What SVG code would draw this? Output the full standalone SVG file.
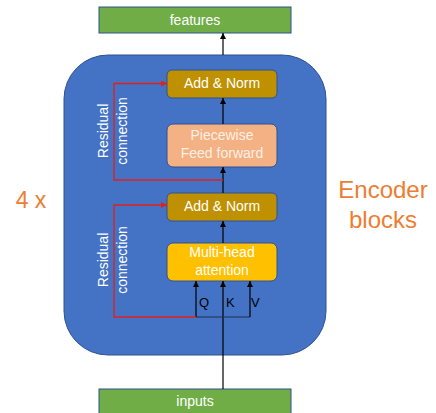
<svg xmlns="http://www.w3.org/2000/svg" width="436" height="413" viewBox="0 0 436 413">
<style>
text{font-family:"Liberation Sans",Arial,sans-serif;}
.lbl{fill:#ffffff;font-size:14px;text-anchor:middle;}
.box{stroke:#2F528F;stroke-width:1;}
.blk{stroke:#000000;stroke-width:1.2;fill:none;}
.red{stroke:#E0201B;stroke-width:1.3;fill:none;}
.nav{stroke:#1F2D4D;stroke-width:1.2;fill:none;}
.orange{fill:#ED7D31;text-anchor:middle;}
.qkv{fill:#000000;font-size:13px;}
</style>
<defs>
<marker id="ab" viewBox="0 0 6 6" refX="6" refY="3" markerWidth="6" markerHeight="6" markerUnits="userSpaceOnUse" orient="auto"><path d="M0,0 L6,3 L0,6 z" fill="#000"/></marker>
<marker id="ar" viewBox="0 0 6 6" refX="6" refY="3" markerWidth="6" markerHeight="6" markerUnits="userSpaceOnUse" orient="auto"><path d="M0,0 L6,3 L0,6 z" fill="#E0201B"/></marker>
</defs>
<rect width="436" height="413" fill="#ffffff"/>
<g id="encoder-container">
<rect x="64" y="55" width="262" height="300" rx="44" ry="44" fill="#4472C4" stroke="#2F528F" stroke-width="1"/>
</g>
<g id="features">
<rect class="box" x="99" y="7" width="192" height="26" fill="#70AD47" stroke="#507E32"/>
<text class="lbl" x="195" y="25">features</text>
</g>
<g id="inputs">
<rect class="box" x="99" y="389" width="192" height="26" fill="#70AD47" stroke="#507E32"/>
<text class="lbl" x="195" y="406">inputs</text>
</g>
<g id="add-norm-top">
<rect class="box" x="167" y="70" width="110" height="28" rx="5" fill="#BF9000"/>
<text class="lbl" x="222" y="88">Add &amp; Norm</text>
</g>
<g id="feed-forward">
<rect class="box" x="167" y="124" width="110" height="43" rx="6" fill="#F4B183"/>
<text class="lbl" x="222" y="140" fill="#FDF0E6" style="fill:#FDF0E6">Piecewise</text>
<text class="lbl" x="222" y="158" style="fill:#FDF0E6">Feed forward</text>
</g>
<g id="add-norm-bottom">
<rect class="box" x="167" y="193" width="110" height="28" rx="5" fill="#BF9000"/>
<text class="lbl" x="222" y="211">Add &amp; Norm</text>
</g>
<g id="multi-head">
<rect class="box" x="167" y="243" width="110" height="38" rx="6" fill="#FFC000"/>
<text class="lbl" x="222" y="257">Multi-head</text>
<text class="lbl" x="222" y="275">attention</text>
</g>
<g id="connectors">
<line class="blk" x1="223" y1="55" x2="223" y2="33" marker-end="url(#ab)"/>
<line class="blk" x1="223" y1="124" x2="223" y2="98" marker-end="url(#ab)"/>
<line class="blk" x1="223" y1="193" x2="223" y2="167" marker-end="url(#ab)"/>
<line class="blk" x1="223" y1="243" x2="223" y2="221" marker-end="url(#ab)"/>
<line class="blk" x1="223" y1="389" x2="223" y2="281" marker-end="url(#ab)"/>
<polyline class="nav" points="196,317 250,317"/>
<line class="blk" x1="196" y1="317" x2="196" y2="281" marker-end="url(#ab)"/>
<line class="blk" x1="250" y1="317" x2="250" y2="281" marker-end="url(#ab)"/>
<polyline class="red" points="223,180 114,180 114,83.5 167,83.5" marker-end="url(#ar)"/>
<polyline class="red" points="196,317 114,317 114,205 167,205" marker-end="url(#ar)"/>
</g>
<g id="labels">
<text class="qkv" x="199" y="307">Q</text>
<text class="qkv" x="226" y="307">K</text>
<text class="qkv" x="251" y="307">V</text>
<text class="lbl" transform="translate(108,131) rotate(-90)" x="0" y="0">Residual</text>
<text class="lbl" transform="translate(126.5,131) rotate(-90)" x="0" y="0">connection</text>
<text class="lbl" transform="translate(108,260) rotate(-90)" x="0" y="0">Residual</text>
<text class="lbl" transform="translate(126.5,260) rotate(-90)" x="0" y="0">connection</text>
<text class="orange" x="31" y="208" font-size="23">4 x</text>
<text class="orange" x="383" y="198" font-size="24">Encoder</text>
<text class="orange" x="383" y="228" font-size="24">blocks</text>
</g>
</svg>
